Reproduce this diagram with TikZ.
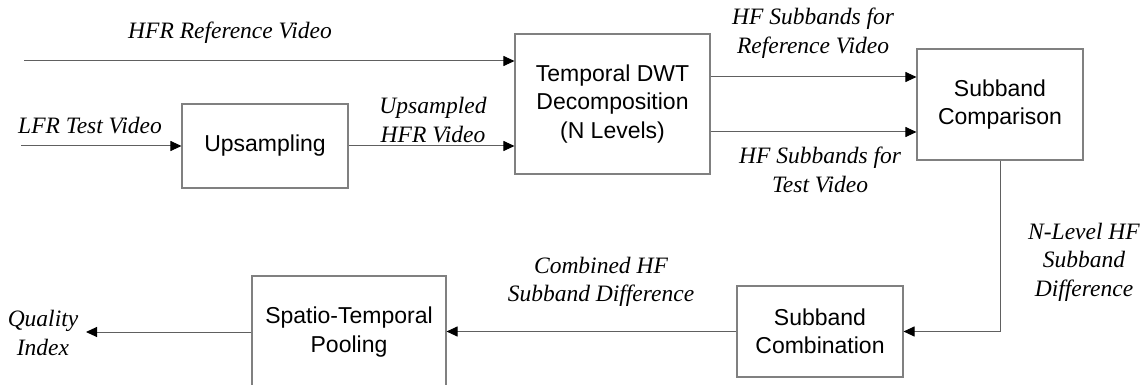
\documentclass[tikz,border=0pt]{standalone}
\usepackage{fontspec}
\setmainfont{Liberation Serif}
\newfontfamily\boxfont{Liberation Sans}
\usetikzlibrary{arrows.meta,calc}
\definecolor{edgegray}{HTML}{808080}
\definecolor{linegray}{HTML}{606060}
\tikzset{
  block/.style={draw=edgegray, line width=1.1pt, rectangle, inner sep=0pt,
    align=center, font=\boxfont\fontsize{23}{28.5}\selectfont},
  lbl/.style={align=center, inner sep=0pt, font=\itshape\fontsize{23.5}{28.5}\selectfont},
  flow/.style={draw=linegray, line width=1pt,
    -{Triangle[length=11pt,width=10pt,color=black]}},
}
\begin{document}
\begin{tikzpicture}[x=1pt,y=-1pt]
\useasboundingbox (0,0) rectangle (1143,385);

% processing blocks
\node[block, minimum width=166pt, minimum height=84pt]  (up)   at (265,146)   {Upsampling};
\node[block, minimum width=195pt, minimum height=140pt] (dwt)  at (612.5,104) {Temporal DWT\\Decomposition\\(N Levels)};
\node[block, minimum width=166pt, minimum height=111pt] (cmp)  at (1000,104.5) {Subband\\Comparison};
\node[block, minimum width=166pt, minimum height=91pt]  (comb) at (820,331.5) {Subband\\Combination};
\node[block, minimum width=194pt, minimum height=112pt] (pool) at (349,332)   {Spatio-Temporal\\Pooling};

% free ends and branch heights
\coordinate (refin) at (24,61);
\coordinate (lfrin) at (21,146);
\coordinate (refband) at (0,77);
\coordinate (testband) at (0,132);
\coordinate (qout) at (86,332);

% connectors
\draw[flow] (refin) -- (refin -| dwt.west);
\draw[flow] (lfrin) -- (up.west);
\draw[flow] (up.east) -- (up.east -| dwt.west);
\draw[flow] (refband -| dwt.east) -- (refband -| cmp.west);
\draw[flow] (testband -| dwt.east) -- (testband -| cmp.west);
\draw[flow] (cmp.south) |- (comb.east);
\draw[flow] (comb.west) -- (comb.west -| pool.east);
\draw[flow] (pool.west) -- (qout);

% signal labels
\node[lbl] (lref)  at (230,33)   {HFR Reference Video};
\node[lbl] (llfr)  at (90,126)   {LFR Test Video};
\node[lbl] (lups)  at (433,120)  {Upsampled\\HFR Video};
\node[lbl] (lhfr)  at (813,33)   {HF Subbands for\\Reference Video};
\node[lbl] (lhft)  at (820,170)  {HF Subbands for\\Test Video};
\node[lbl] (lnlev) at (1084,262) {N-Level HF\\Subband\\Difference};
\node[lbl] (lcomb) at (601,282)  {Combined HF\\Subband Difference};
\node[lbl] (lqual) at (43,333)   {Quality\\Index};
\end{tikzpicture}
\end{document}
